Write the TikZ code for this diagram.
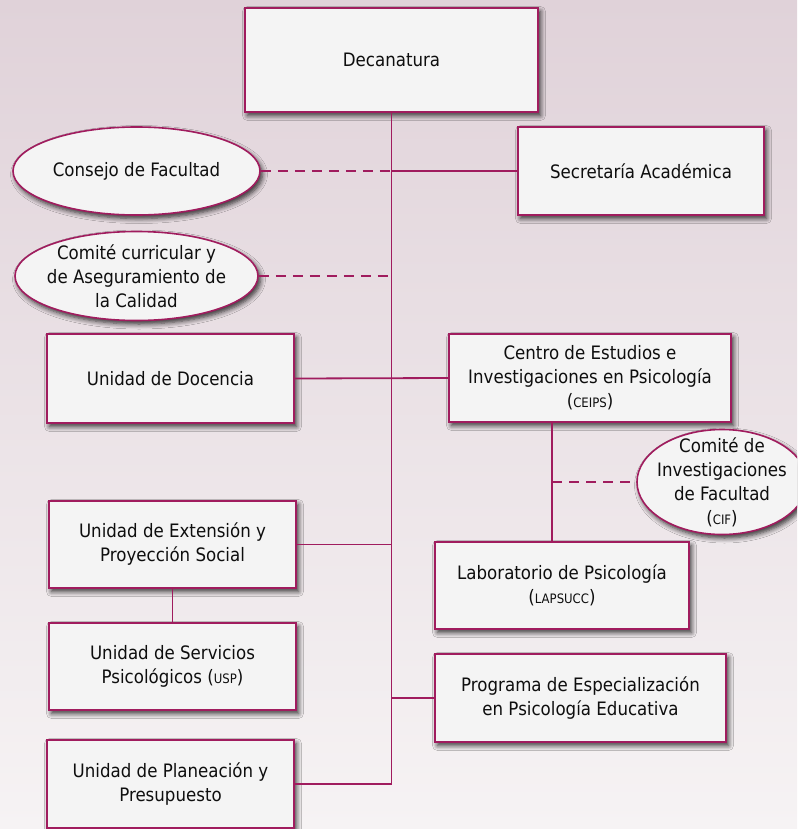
\documentclass[tikz,border=0pt]{standalone}
\usepackage{fontspec}
\setmainfont{DejaVu Sans}[FakeStretch=0.9]
\usetikzlibrary{shapes.geometric,shadows.blur}
\definecolor{bord}{HTML}{A01C5E}
\definecolor{boxfill}{HTML}{F4F4F4}
\definecolor{bgtop}{HTML}{E0D2D9}
\definecolor{bgbot}{HTML}{F6F3F4}
\definecolor{txt}{HTML}{0E0E0E}
\newcommand{\acr}[1]{{\fontsize{13}{15}\selectfont #1}}
\begin{document}
\begin{tikzpicture}[x=1pt,y=-1pt,
  every node/.style={font=\fontsize{18.5}{24}\selectfont, text=txt},
  unitbox/.style={draw=bord, line width=1.6pt, fill=boxfill, align=center, inner sep=0pt,
    blur shadow={shadow xshift=2.5pt, shadow yshift=-3.5pt, shadow blur radius=5pt, shadow blur steps=6, shadow opacity=80}},
  rbox/.style={unitbox, rectangle},
  ebox/.style={unitbox, ellipse},
  link/.style={draw=bord, line width=1.8pt},
  dlink/.style={link, dash pattern=on 10pt off 7pt}
]
\useasboundingbox (0,0) rectangle (797,829);
\clip (0,0) rectangle (797,829);
\fill[top color=bgtop, bottom color=bgbot] (0,0) rectangle (797,829);

\node[rbox, minimum width=293pt, minimum height=104pt] (dec) at (391.5,60) {Decanatura};
\node[rbox, minimum width=246pt, minimum height=88pt] (sec) at (641,171) {Secretaría Académica};
\node[ebox, minimum width=247pt, minimum height=88pt, label={center:Consejo de Facultad}] (cons) at (136.5,171) {};
\node[ebox, minimum width=243pt, minimum height=89pt, label={[align=center]center:Comité curricular y\\de Aseguramiento de\\la Calidad}] (comc) at (136.5,276) {};
\node[rbox, minimum width=247pt, minimum height=89pt] (doc) at (170.5,378.5) {Unidad de Docencia};
\node[rbox, minimum width=282pt, minimum height=88pt] (ceips) at (590,378) {Centro de Estudios e\\Investigaciones en Psicología\\(\acr{CEIPS})};
\node[ebox, minimum width=170pt, minimum height=105pt, label={[align=center]center:Comité de\\Investigaciones\\de Facultad\\(\acr{CIF})}] (cif) at (722,482) {};
\node[rbox, minimum width=254pt, minimum height=87pt] (lab) at (562,585.5) {Laboratorio de Psicología\\(\acr{LAPSUCC})};
\node[rbox, minimum width=291pt, minimum height=88pt] (prog) at (580.5,698) {Programa de Especialización\\en Psicología Educativa};
\node[rbox, minimum width=247pt, minimum height=87pt] (ext) at (172.5,544.5) {Unidad de Extensión y\\Proyección Social};
\node[rbox, minimum width=247pt, minimum height=87pt] (serv) at (172.5,666.5) {Unidad de Servicios\\Psicológicos (\acr{USP})};
\node[rbox, minimum width=247pt, minimum height=88pt] (plan) at (170.5,784) {Unidad de Planeación y\\Presupuesto};

\coordinate (cl) at (552,422);

\draw[link] (dec.south) -- (dec.south |- plan.east) -- (plan.east);
\draw[link] (dec.south |- sec.west) -- (sec.west);
\draw[dlink] (cons.east) -- (dec.south |- cons.east);
\draw[dlink] (comc.east) -- (dec.south |- comc.east);
\draw[link] (doc.east) -- (ceips.west);
\draw[link] (cl) -- (cl |- lab.north);
\draw[dlink] (cl |- cif.west) -- (cif.west);
\draw[link] (ext.east) -- (dec.south |- ext.east);
\draw[link] (ext.south) -- (serv.north);
\draw[link] (dec.south |- prog.west) -- (prog.west);
\end{tikzpicture}
\end{document}
